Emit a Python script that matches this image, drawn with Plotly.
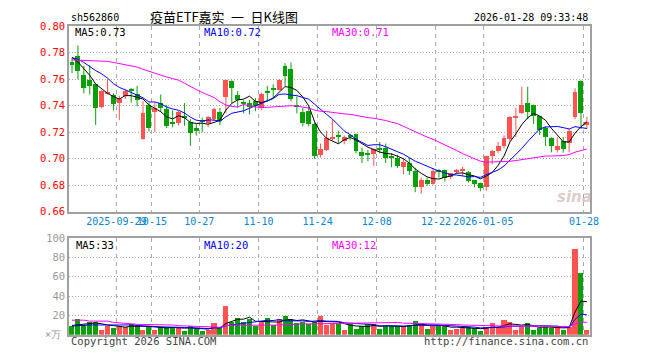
import plotly.graph_objects as go
import numpy as np

dates = ["2025-09-17","2025-09-18","2025-09-19","2025-09-22","2025-09-23","2025-09-24","2025-09-25","2025-09-26",
         "2025-09-29","2025-09-30",
         "2025-10-09","2025-10-10","2025-10-13","2025-10-14","2025-10-15","2025-10-16","2025-10-17",
         "2025-10-20","2025-10-21","2025-10-22","2025-10-23","2025-10-24","2025-10-27","2025-10-28",
         "2025-10-29","2025-10-30","2025-10-31",
         "2025-11-03","2025-11-04","2025-11-05","2025-11-06","2025-11-07","2025-11-10","2025-11-11",
         "2025-11-12","2025-11-13","2025-11-14","2025-11-17","2025-11-18","2025-11-19","2025-11-20",
         "2025-11-21","2025-11-24","2025-11-25","2025-11-26","2025-11-27","2025-11-28",
         "2025-12-01","2025-12-02","2025-12-03","2025-12-04","2025-12-05","2025-12-08","2025-12-09",
         "2025-12-10","2025-12-11","2025-12-12","2025-12-15","2025-12-16","2025-12-17","2025-12-18",
         "2025-12-19","2025-12-22","2025-12-23","2025-12-24","2025-12-25","2025-12-26","2025-12-29",
         "2025-12-30","2025-12-31",
         "2026-01-05","2026-01-06","2026-01-07","2026-01-08","2026-01-09","2026-01-12","2026-01-13",
         "2026-01-14","2026-01-15","2026-01-16","2026-01-19","2026-01-20","2026-01-21","2026-01-22",
         "2026-01-23","2026-01-26","2026-01-27","2026-01-28"]

opens = [0.7731,0.7772,0.7629,0.7592,0.7561,0.7385,0.7488,0.7480,0.7421,0.7472,
         0.7517,0.7489,0.7147,0.7402,0.7350,0.7421,0.7370,0.7271,0.7269,0.7317,
         0.7273,0.7232,0.7283,0.7266,0.7298,0.7354,0.7466,0.7585,0.7482,0.7425,
         0.7420,0.7435,0.7379,0.7506,0.7531,0.7518,0.7695,0.7673,0.7403,0.7347,
         0.7359,0.7261,0.7024,0.7065,0.7146,0.7175,0.7134,0.7170,0.7183,0.7046,
         0.7034,0.7034,0.7078,0.7078,0.7009,0.7004,0.6935,0.6967,0.6906,0.6784,
         0.6833,0.6808,0.6911,0.6911,0.6857,0.6894,0.6911,0.6894,0.6833,0.6813,
         0.6780,0.7016,0.7053,0.7095,0.7146,0.7310,0.7342,0.7420,0.7401,0.7317,
         0.7229,0.7156,0.7065,0.7131,0.7114,0.7310,0.7587,0.7249]
highs = [0.7763,0.7855,0.7702,0.7705,0.7567,0.7518,0.7600,0.7494,0.7475,0.7522,
         0.7533,0.7550,0.7435,0.7421,0.7423,0.7485,0.7405,0.7365,0.7362,0.7420,
         0.7298,0.7261,0.7310,0.7322,0.7384,0.7384,0.7597,0.7592,0.7511,0.7440,
         0.7445,0.7457,0.7499,0.7550,0.7562,0.7600,0.7722,0.7727,0.7470,0.7384,
         0.7391,0.7273,0.7114,0.7212,0.7298,0.7212,0.7175,0.7188,0.7188,0.7082,
         0.7065,0.7078,0.7126,0.7114,0.7041,0.7029,0.7004,0.7004,0.6931,0.6857,
         0.6857,0.6931,0.6923,0.6918,0.6894,0.6923,0.6938,0.6906,0.6838,0.6820,
         0.7022,0.7065,0.7127,0.7176,0.7322,0.7384,0.7545,0.7543,0.7408,0.7322,
         0.7244,0.7163,0.7163,0.7163,0.7224,0.7531,0.7592,0.7315]
lows = [0.7646,0.7600,0.7494,0.7486,0.7255,0.7380,0.7485,0.7365,0.7291,0.7451,
        0.7423,0.7396,0.7143,0.7205,0.7202,0.7354,0.7231,0.7237,0.7250,0.7249,
        0.7097,0.7175,0.7200,0.7237,0.7286,0.7254,0.7342,0.7420,0.7384,0.7342,
        0.7335,0.7359,0.7367,0.7433,0.7457,0.7515,0.7550,0.7433,0.7342,0.7244,
        0.7244,0.6999,0.7009,0.7058,0.7139,0.7114,0.7109,0.7139,0.7041,0.6967,
        0.6980,0.6943,0.7041,0.6967,0.6935,0.6931,0.6882,0.6877,0.6747,0.6735,
        0.6796,0.6803,0.6857,0.6828,0.6845,0.6886,0.6869,0.6820,0.6784,0.6754,
        0.6758,0.6955,0.7041,0.7078,0.7127,0.7163,0.7335,0.7298,0.7261,0.7180,
        0.7097,0.7048,0.7046,0.7046,0.7048,0.7298,0.7224,0.7224]
closes = [0.7702,0.7658,0.7531,0.7548,0.7380,0.7510,0.7501,0.7408,0.7452,0.7510,
          0.7510,0.7439,0.7342,0.7231,0.7380,0.7380,0.7245,0.7266,0.7350,0.7310,
          0.7195,0.7210,0.7276,0.7310,0.7376,0.7281,0.7592,0.7531,0.7438,0.7408,
          0.7391,0.7396,0.7487,0.7501,0.7518,0.7592,0.7624,0.7452,0.7391,0.7269,
          0.7261,0.7016,0.7070,0.7156,0.7163,0.7158,0.7163,0.7163,0.7058,0.7021,
          0.7028,0.7073,0.7070,0.7004,0.7004,0.6943,0.6975,0.6906,0.6784,0.6840,
          0.6808,0.6906,0.6894,0.6852,0.6886,0.6913,0.6916,0.6828,0.6803,0.6779,
          0.7016,0.7053,0.7097,0.7156,0.7310,0.7322,0.7401,0.7354,0.7322,0.7212,
          0.7163,0.7097,0.7095,0.7070,0.7205,0.7499,0.7342,0.7273]
volumes = [9.3,16,10,12.7,12.7,5,9.3,7.3,9.3,7.7,
           10.7,10,5,9.3,5,7.7,7.7,7.7,6.7,4,
           9,6.7,4,5,12.3,6.7,30,13.3,17,13.3,
           16.7,9,13.3,17,10,15.7,19.3,16,12.3,13.3,
           10.7,13.3,19.3,10,10.7,12.3,5,11,6,9,
           11,11,6,9,9,9,9,10,14,11.7,
           6,9.3,9.3,9.3,5,6,6.7,8.3,6.7,3.3,
           8.3,11.7,8.3,15,12.7,5,8.3,12.3,5,6.7,
           8.3,6.7,8.3,5,8.3,89,63.3,5]

ma5_head = [0.7765,0.7730,0.7680,0.7630]
ma10_head = [0.7763,0.7751,0.7727,0.7695,0.7665,0.7641,0.7609,0.7567,0.7538]
ma30_head = [0.7746,0.7745,0.7744,0.7743,0.7742,0.7740,0.7735,0.7727,0.7718,0.7712,
             0.7702,0.7692,0.7675,0.7660,0.7642,0.7628,0.7617,0.7605,0.7593,0.7570,
             0.7544,0.7522,0.7500,0.7482,0.7462,0.7430,0.7405,0.7395,0.7390]
vma5_head = [9.5,10,10.7,11.5]
vma10_head = [9,9,9.5,10,10,10.3,10.5,10.3,10]
vma30_head = [15,15,15,14,14,14,14,12.7,12,11.7,11.3,10.7,10.7,10.3,10,10,10,10,9.3,9,
              9,8.7,8.3,8.3,8,7.7,9.5,10,10]

tick_dates = ["2025-09-29","2025-10-15","2025-10-27","2025-11-10","2025-11-24",
              "2025-12-08","2025-12-22","2026-01-05","2026-01-28"]
tick_labels = ["2025-09-29","10-15","10-27","11-10","11-24","12-08","12-22","2026-01-05","01-28"]
price_ticks = [0.66,0.68,0.70,0.72,0.74,0.76,0.78,0.80]
vol_ticks = [20,40,60,80,100]

title = "疫苗ETF嘉实\u2002一\u2002日K线图"
code = "sh562860"
stamp = "2026-01-28 09:33:48"
ma_labels = ["MA5:0.73","MA10:0.72","MA30:0.71"]
vma_labels = ["MA5:33","MA10:20","MA30:12"]

RED = "#FF5353"
GREEN = "#08A008"
MA_COLORS = ["#000000","#0000FF","#FF00FF"]
MONO = "DejaVu Sans Mono"
FS = 10

W, H = 660, 360
L, R = 70, 598
PT, PB = 21, 212.7
VT, VB = 240, 340

def px(x): return x / W
def py(y): return 1 - y / H

def roll(vals, n, head):
    a = np.array(vals, dtype=float)
    out = list(head)
    for i in range(len(head), len(a)):
        out.append(float(a[i-n+1:i+1].mean()))
    return out

n = len(dates)
idx = list(range(n))
up = [c >= o for o, c in zip(opens, closes)]
colors = [RED if u else GREEN for u in up]

fig = go.Figure()

# wicks
for col, flag in [(RED, True), (GREEN, False)]:
    wx, wy = [], []
    for i in idx:
        if up[i] == flag:
            wx += [i, i, None]
            wy += [lows[i], highs[i], None]
    fig.add_trace(go.Scatter(x=wx, y=wy, mode="lines", line=dict(color=col, width=1),
                             hoverinfo="skip", showlegend=False, xaxis="x", yaxis="y"))

# bodies
base = [min(o, c) for o, c in zip(opens, closes)]
hgt = [max(abs(c - o), 0.0008) for o, c in zip(opens, closes)]
fig.add_trace(go.Bar(x=idx, y=hgt, base=base, width=0.83, marker=dict(color=colors, line=dict(width=0)),
                     showlegend=False, xaxis="x", yaxis="y"))

# price MAs
for (nn, head), col in zip([(5, ma5_head), (10, ma10_head), (30, ma30_head)], MA_COLORS):
    fig.add_trace(go.Scatter(x=idx, y=roll(closes, nn, head), mode="lines",
                             line=dict(color=col, width=1), showlegend=False, xaxis="x", yaxis="y"))

# volume
fig.add_trace(go.Bar(x=idx, y=volumes, width=0.85, marker=dict(color=colors, line=dict(width=0)),
                     showlegend=False, xaxis="x2", yaxis="y2"))
for (nn, head), col in zip([(5, vma5_head), (10, vma10_head), (30, vma30_head)], MA_COLORS):
    fig.add_trace(go.Scatter(x=idx, y=roll(volumes, nn, head), mode="lines",
                             line=dict(color=col, width=1), showlegend=False, xaxis="x2", yaxis="y2"))

tickpos = [dates.index(d) - 0.5 for d in tick_dates]

axis_common = dict(showline=True, mirror=True, linecolor="#A0A0A0", linewidth=1.5,
                   zeroline=False, ticks="", fixedrange=True)

fig.update_layout(
    width=W, height=H, margin=dict(l=0, r=0, t=0, b=0),
    paper_bgcolor="white", plot_bgcolor="white", barmode="overlay", bargap=0,
    xaxis=dict(domain=[px(L), px(R)], range=[-0.5, n - 0.5], anchor="y",
               tickmode="array", tickvals=tickpos, ticktext=tick_labels, tickangle=0,
               tickfont=dict(family=MONO, size=FS, color="#0A84D0"),
               showgrid=True, gridcolor="#AAAAAA", griddash="4px,4px", gridwidth=1,
               **axis_common),
    yaxis=dict(domain=[py(PB), py(PT)], range=[0.66, 0.80], anchor="x",
               tickmode="array", tickvals=price_ticks, ticktext=[f"{v:.2f}" for v in price_ticks],
               tickfont=dict(family=MONO, size=FS + 0.5, color="#FF0000"),
               showgrid=True, gridcolor="#A8A8A8", griddash="1px,2px", gridwidth=1,
               **axis_common),
    xaxis2=dict(domain=[px(L), px(R)], range=[-0.5, n - 0.5], anchor="y2",
                tickmode="array", tickvals=tickpos, showticklabels=False,
                showgrid=True, gridcolor="#AAAAAA", griddash="4px,4px", gridwidth=1,
                **axis_common),
    yaxis2=dict(domain=[py(VB), py(VT)], range=[0, 100], anchor="x2",
                tickmode="array", tickvals=vol_ticks, ticktext=[str(v) for v in vol_ticks],
                tickfont=dict(family=MONO, size=FS + 0.5, color="#999999"),
                showgrid=True, gridcolor="#A8A8A8", griddash="1px,2px", gridwidth=1,
                **axis_common),
)

def ann(text, x, y, color="#000000", size=FS, family=MONO, xanchor="left", **kw):
    fig.add_annotation(text=text, x=px(x), y=py(y), xref="paper", yref="paper",
                       xanchor=xanchor, yanchor="middle", showarrow=False,
                       font=dict(family=family, size=size, color=color), **kw)

ann(code, L, 12)
ann(title, 150, 11, size=13, family="Noto Sans CJK SC")
ann(stamp, R, 12, xanchor="right")
for t, x, c in zip(ma_labels, [74, 205, 335], MA_COLORS):
    ann(t, x, 27, color=c, size=10.5)
for t, x, c in zip(vma_labels, [75, 205, 335], MA_COLORS):
    ann(t, x, 247, color=c, size=10.5)
ann("×万", 64, 340, color="#999999")
fig.layout.annotations[-1].xanchor = "right"
ann("Copyright 2026 SINA.COM", L, 347, color="#444444", size=10.5)
ann("http://finance.sina.com.cn", R, 347, color="#444444", xanchor="right", size=10.5)
ann("<b><i>sina</i></b>", 582, 198, color="rgba(190,160,160,0.55)", size=15,
    family="DejaVu Sans", xanchor="center")

fig.write_html("out.html", config={"displayModeBar": False},
               post_script="document.body.style.margin='0';document.body.style.padding='0';")
